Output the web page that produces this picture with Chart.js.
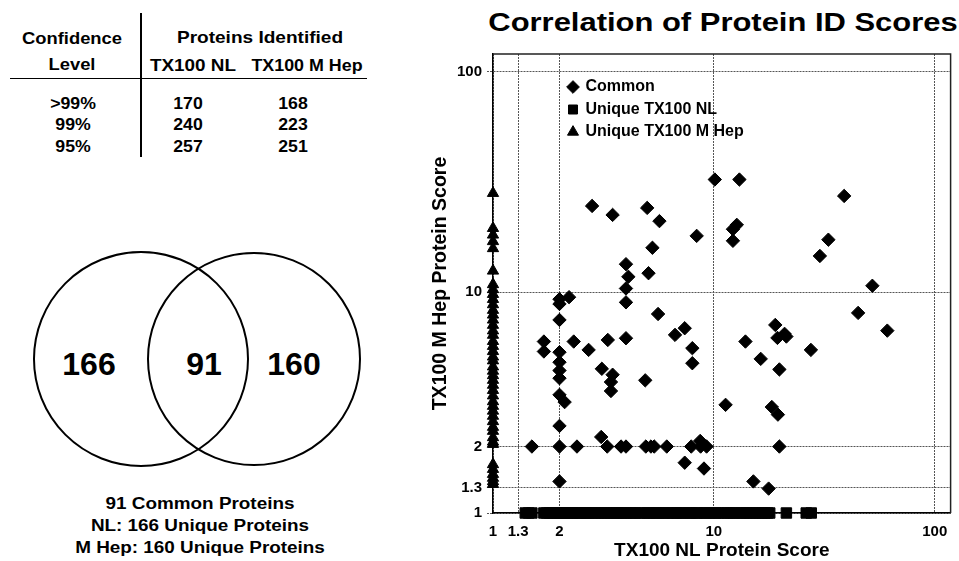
<!DOCTYPE html>
<html lang="en">
<head>
  <meta charset="UTF-8">
  <title>Correlation of Protein ID Scores</title>
  <script src="https://cdn.jsdelivr.net/npm/chart.js@4.4.1/dist/chart.umd.min.js"></script>
  <style>
    body {
      margin: 0;
      width: 959px;
      height: 561px;
      position: relative;
      overflow: hidden;
      background: #fff;
      color: #000;
      font-family: "Liberation Sans", Arial, sans-serif;
      font-weight: bold;
    }

    .t {
      position: absolute;
      white-space: nowrap;
      line-height: 1;
      transform: translate(-50%, -50%) scaleX(var(--sx, 1));
    }

    .line {
      position: absolute;
      background: #000;
    }

    #venn {
      position: absolute;
      left: 0;
      top: 0;
    }

    #chart {
      position: absolute;
      left: 425px;
      top: 40px;
    }
  </style>
</head>

<body>
  <div id="table"></div>
  <svg id="venn" width="400" height="561">
    <circle cx="141" cy="359" r="107" fill="none" stroke="#000" stroke-width="2"></circle>
    <circle cx="254" cy="359" r="106" fill="none" stroke="#000" stroke-width="2"></circle>
  </svg>
  <div id="vennText"></div>
  <div class="t" style="left:723px; top:22px; font-size:26px; --sx:1.19">Correlation of Protein ID Scores</div>
  <canvas id="chart" width="534" height="521"></canvas>

  <script>
    // table on the left
    const confidenceLevels = ['>99%', '99%', '95%'];
    const nlCounts = [170, 240, 257];
    const hepCounts = [168, 223, 251];

    // venn
    const vennCounts = [166, 91, 160];
    const vennNotes = ['91 Common Proteins', 'NL: 166 Unique Proteins', 'M Hep: 160 Unique Proteins'];

    // scatter
    const tickValues = [1, 1.3, 2, 10, 100];
    const commonNL = [10.1, 13.05, 38.9, 2.81, 3.48, 4.99, 5.67, 12.7, 12.2, 8.36,
      12.2, 33.0, 30.2, 5.27, 4.0, 4.1, 5.06, 4.0, 4.0, 52.2,
      2.0, 2.0, 2.21, 2.0, 5.59, 45.0, 61.0, 7.38, 6.67, 18.97,
      20.9, 19.4, 21.3, 27.5, 13.9, 16.3, 19.8, 11.3, 18.3, 19.5,
      19.8, 15.1, 17.7, 1.7, 1.7, 2.32, 2.71, 3.31, 4.0, 2.0,
      2.0, 2.0, 2.0, 2.0, 2.11, 3.11, 3.48, 3.42, 3.42, 4.89,
      7.99, 7.99, 2.0, 1.5, 2.0, 2.4, 3.29, 3.8, 4.0, 4.92,
      5.19, 5.37, 6.12, 7.9, 8.71, 9.27, 3.09, 8.67, 7.38, 9.02,
      2.0];
    const commonHep = [32.4, 32.4, 27.3, 24.6, 22.4, 24.1, 21.0, 20.2, 19.3, 18.0,
      17.1, 17.3, 14.6, 15.9, 13.4, 11.75, 12.2, 10.4, 9.0, 10.7,
      9.3, 8.85, 9.5, 7.49, 7.97, 8.06, 6.7, 6.87, 6.41, 7.11,
      6.48, 6.21, 6.3, 5.48, 5.98, 4.99, 4.47, 3.09, 3.02, 2.79,
      2.0, 1.39, 1.29, 5.98, 5.39, 5.98, 5.48, 6.08, 6.19, 5.35,
      4.82, 4.42, 4.08, 3.43, 3.18, 4.5, 4.23, 3.92, 3.57, 3.99,
      5.58, 4.77, 2.48, 2.0, 2.0, 2.0, 2.0, 2.0, 2.0, 2.0,
      2.0, 2.0, 2.0, 2.0, 2.0, 2.0, 2.21, 2.12, 1.69, 1.59,
      1.39];
    // NL scores of proteins only found in NL (M Hep score = 1)
    const uniqueNL = [1.4, 1.45, 1.5, 1.7, 1.75, 1.8, 1.85, 1.9, 1.95, 2.0,
      2.0, 2.05, 2.1, 2.15, 2.2, 2.25, 2.3, 2.4, 2.45, 2.5,
      2.6, 2.65, 2.7, 2.8, 2.9, 3.0, 3.1, 3.2, 3.3, 3.4,
      3.5, 3.6, 3.7, 3.8, 3.9, 4.0, 4.2, 4.3, 4.4, 4.6,
      4.8, 5.0, 5.1, 5.3, 5.5, 5.6, 5.9, 6.0, 6.2, 6.5,
      6.7, 6.8, 7.0, 7.2, 7.6, 7.8, 8.0, 8.3, 8.5, 9.0,
      9.2, 9.5, 10, 10.2, 10.5, 11.1, 11.5, 11.8, 12.2, 12.5,
      13.2, 13.6, 14, 14.5, 15, 15.5, 16, 16.5, 17, 17.5,
      17.9, 21.3, 26.2, 27.6];
    // M Hep scores of proteins only found in M Hep (NL score = 1)
    const uniqueHep = [28.1, 19.5, 18.2, 17.0, 15.8, 12.5, 10.85, 10.3, 9.8, 9.3,
      8.8, 8.3, 7.9, 7.5, 7.1, 6.7, 6.4, 6.0, 5.7, 5.4,
      5.1, 4.9, 4.6, 4.4, 4.2, 4.0, 3.8, 3.6, 3.4, 3.2,
      3.05, 2.9, 2.75, 2.6, 2.45, 2.35, 2.2, 2.1, 2.05, 1.66,
      1.58, 1.5, 1.44, 1.39, 1.35];

    function addText(parent, text, x, y, size, sx) {
      const d = document.createElement('div');
      d.className = 't';
      d.textContent = text;
      d.style.left = x + 'px';
      d.style.top = y + 'px';
      d.style.fontSize = size + 'px';
      if (sx) d.style.setProperty('--sx', sx);
      parent.appendChild(d);
    }

    function addLine(parent, x, y, w, h) {
      const d = document.createElement('div');
      d.className = 'line';
      d.style.left = x + 'px';
      d.style.top = y + 'px';
      d.style.width = w + 'px';
      d.style.height = h + 'px';
      parent.appendChild(d);
    }

    const table = document.getElementById('table');
    addText(table, 'Confidence', 72, 38, 17, 1.08);
    addText(table, 'Level', 72, 64, 17, 1.08);
    addText(table, 'Proteins Identified', 260, 37, 17, 1.12);
    addText(table, 'TX100 NL', 193, 64.5, 17, 1.11);
    addText(table, 'TX100 M Hep', 306.5, 64.5, 17, 1.05);
    addLine(table, 140, 13, 1.5, 144);
    addLine(table, 10, 77.5, 357, 1.5);
    const rowY = [102.5, 124, 146];
    for (let i = 0; i < confidenceLevels.length; i++) {
      addText(table, confidenceLevels[i], 73, rowY[i], 17, 1.04);
      addText(table, nlCounts[i], 188, rowY[i], 17, 1.04);
      addText(table, hepCounts[i], 293, rowY[i], 17, 1.04);
    }

    const vennText = document.getElementById('vennText');
    const vennX = [89, 204, 294];
    for (let i = 0; i < vennCounts.length; i++) {
      addText(vennText, vennCounts[i], vennX[i], 363.5, 32);
    }
    const noteY = [504, 526, 548];
    for (let i = 0; i < vennNotes.length; i++) {
      addText(vennText, vennNotes[i], 200, noteY[i], 16, 1.18);
    }

    const family = '"Liberation Sans", Arial, sans-serif';

    const frame = {
      id: 'frame',
      afterLayout(chart) {
        // put the legend inside the plot, near the top left
        const a = chart.chartArea;
        const lg = chart.legend;
        lg.left = a.left + 69;
        lg.top = a.top + 18.5;
        lg.right = a.right;
        lg.bottom = a.bottom;
      },
      afterDraw(chart) {
        const a = chart.chartArea;
        const c = chart.ctx;
        c.save();
        c.strokeStyle = '#222';
        c.lineWidth = 1.5;
        c.beginPath();
        c.moveTo(a.left, a.top);
        c.lineTo(a.right, a.top);
        c.lineTo(a.right, a.bottom);
        c.stroke();
        c.restore();
      }
    };

    new Chart(document.getElementById('chart'), {
      type: 'scatter',
      data: {
        datasets: [{
          label: 'Common',
          data: commonNL.map((x, i) => ({ x: x, y: commonHep[i] })),
          pointStyle: 'rectRot',
          pointRadius: 6.7,
          backgroundColor: '#000',
          borderColor: '#000',
          borderWidth: 1,
          clip: false
        }, {
          label: 'Unique TX100 NL',
          data: uniqueNL.map(x => ({ x: x, y: 1 })),
          pointStyle: 'rect',
          pointRadius: 7.4,
          backgroundColor: '#000',
          borderColor: '#000',
          borderWidth: 1,
          clip: false
        }, {
          label: 'Unique TX100 M Hep',
          data: uniqueHep.map(y => ({ x: 1, y: y })),
          pointStyle: 'triangle',
          pointRadius: 6.5,
          backgroundColor: '#000',
          borderColor: '#000',
          borderWidth: 1,
          clip: false
        }]
      },
      options: {
        responsive: false,
        animation: false,
        layout: { padding: { top: 12, right: 6, left: 0, bottom: 0 } },
        plugins: {
          tooltip: { enabled: false },
          legend: {
            position: 'chartArea',
            align: 'start',
            labels: {
              usePointStyle: true,
              boxWidth: 9,
              boxHeight: 9,
              padding: 6.5,
              color: '#000',
              font: { family: family, size: 16, weight: 'bold' }
            }
          }
        },
        scales: {
          x: {
            type: 'logarithmic',
            min: 1,
            max: 118,
            afterBuildTicks: s => { s.ticks = tickValues.map(v => ({ value: v })); },
            afterFit: s => { s.height = 48; },
            ticks: {
              autoSkip: false,
              maxRotation: 0,
              padding: 10,
              color: '#000',
              font: { family: family, size: 15, weight: 'bold' },
              callback: v => String(v)
            },
            grid: { color: '#555', drawTicks: false },
            border: { color: '#000', width: 1.5, dash: [2, 1] },
            title: {
              display: true,
              text: 'TX100 NL Protein Score',
              color: '#000',
              padding: { top: 0, bottom: -1 },
              font: { family: family, size: 19, weight: 'bold' }
            }
          },
          y: {
            type: 'logarithmic',
            min: 1,
            max: 120,
            afterBuildTicks: s => { s.ticks = tickValues.map(v => ({ value: v })); },
            afterFit: s => { s.width = 68; },
            ticks: {
              autoSkip: false,
              padding: 5,
              color: '#000',
              font: { family: family, size: 15, weight: 'bold' },
              callback: v => String(v)
            },
            grid: { color: '#555', tickLength: 6, tickColor: '#555', tickBorderDash: [2, 1] },
            border: { color: '#000', width: 1.5, dash: [2, 1] },
            title: {
              display: true,
              text: 'TX100 M Hep Protein Score',
              color: '#000',
              padding: { top: 4, bottom: 0 },
              font: { family: family, size: 19.5, weight: 'bold' }
            }
          }
        }
      },
      plugins: [frame]
    });
  </script>
</body>

</html>
